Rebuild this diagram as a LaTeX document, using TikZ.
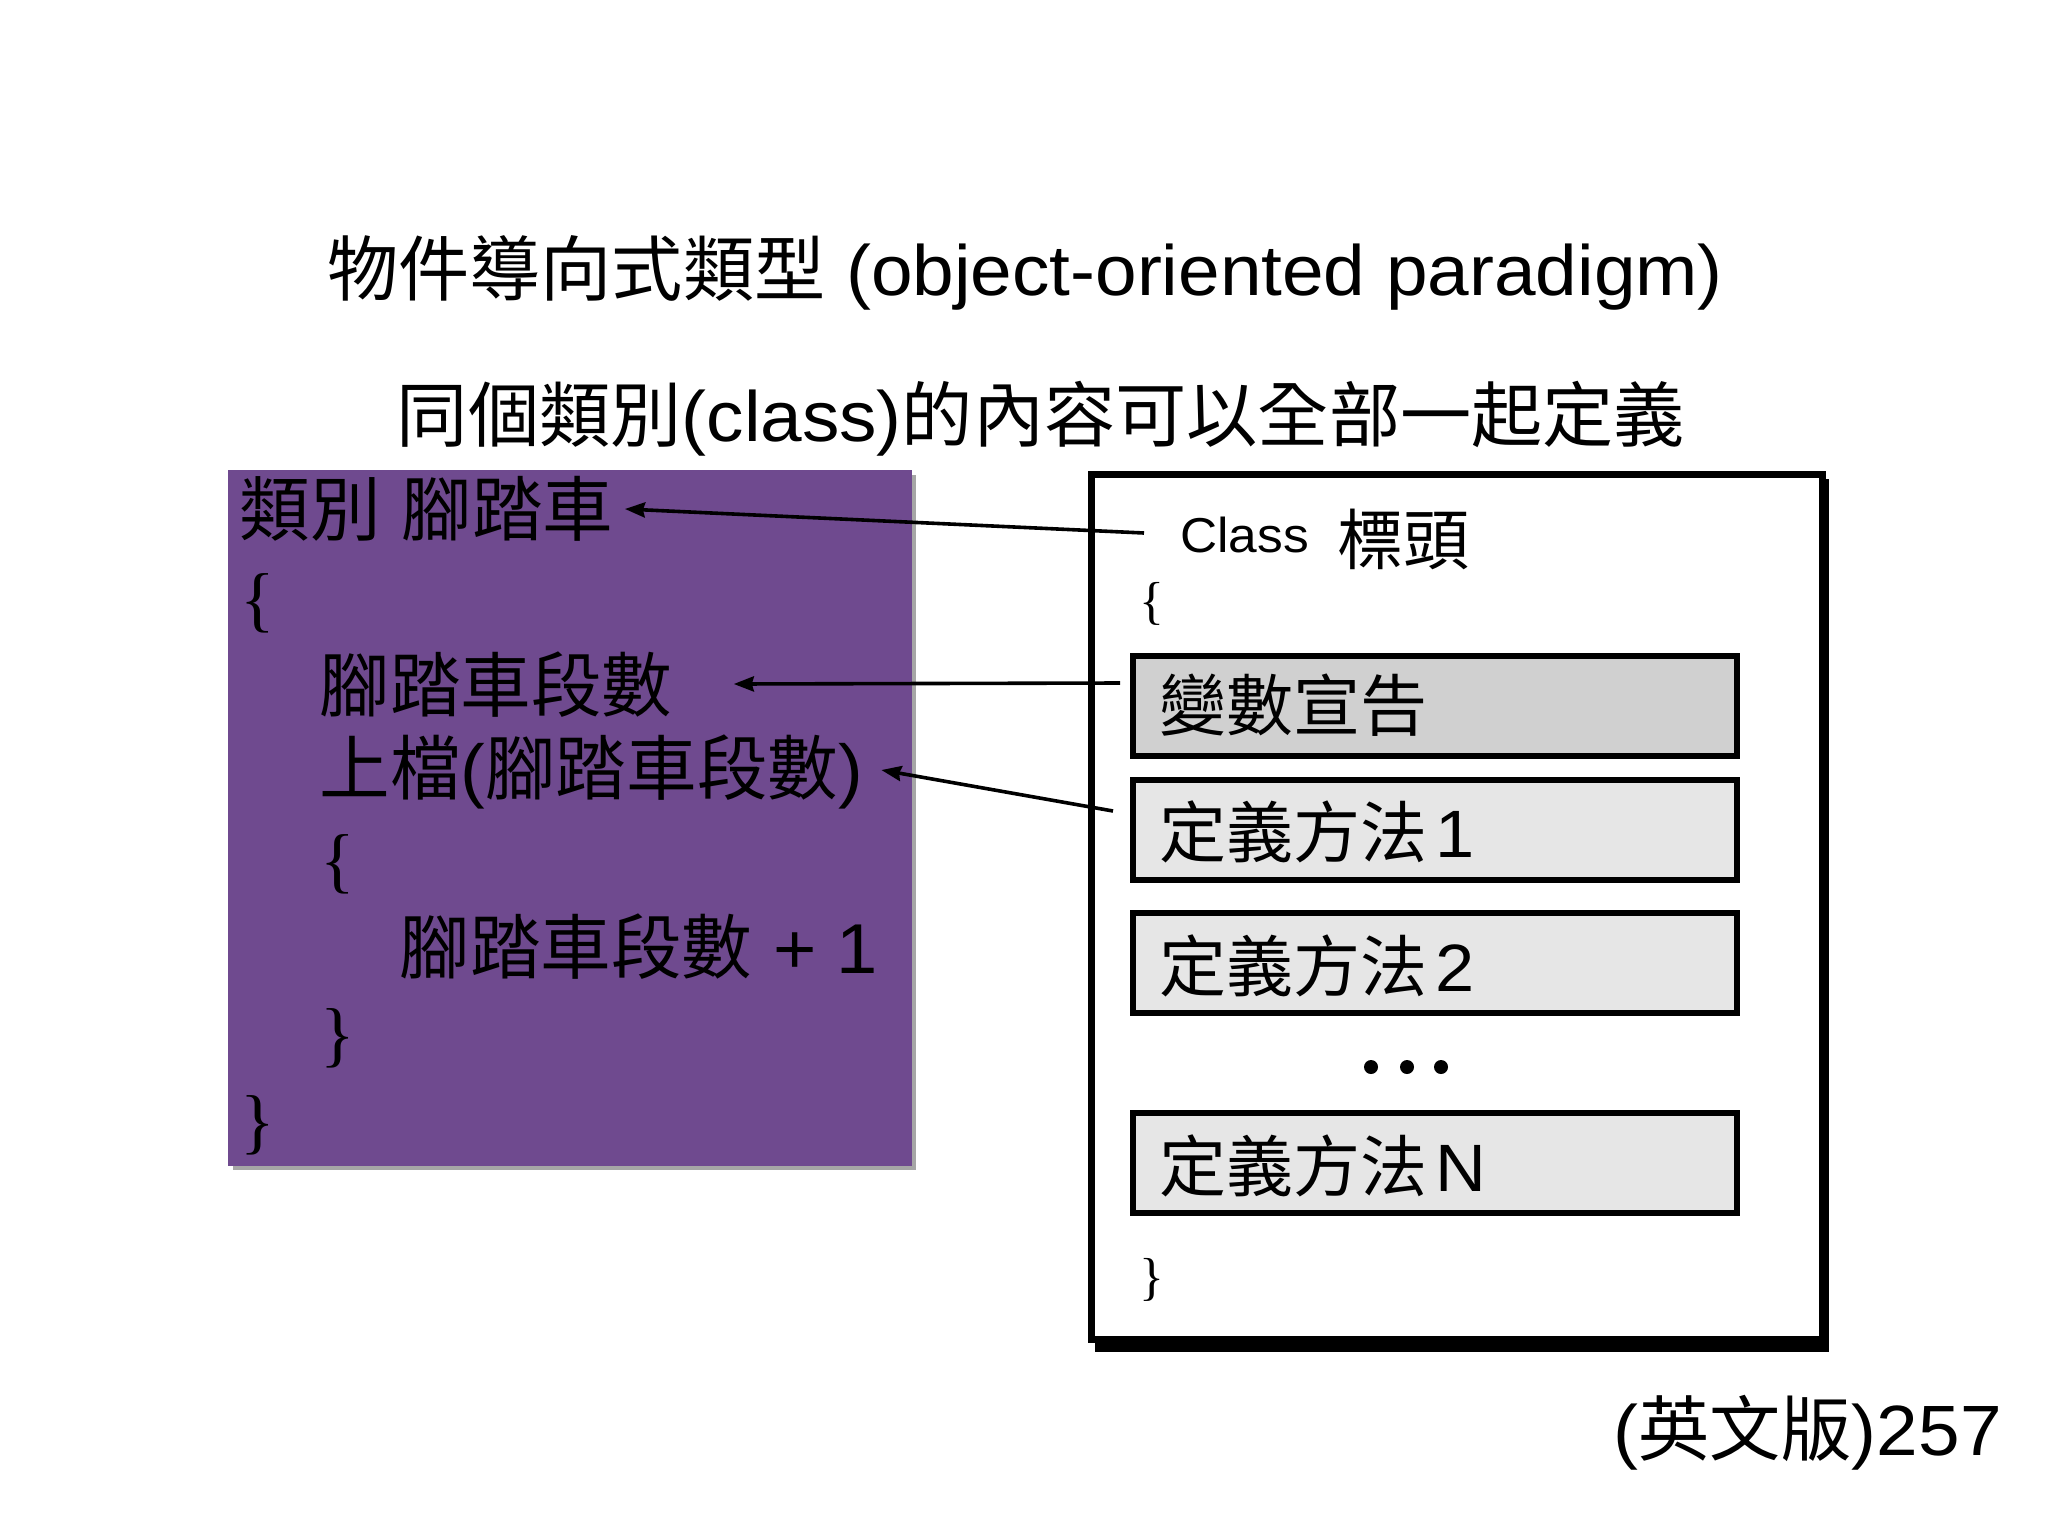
\documentclass[tikz,border=0pt]{standalone}
\usepackage{fontspec}
\setmainfont[FakeStretch=1.05]{Liberation Sans}
\newfontfamily\cjk{Noto Sans CJK TC}
\newfontfamily\serifbr{Liberation Serif}
\usetikzlibrary{arrows.meta,calc}
\definecolor{panelpurple}{RGB}{111,74,143}
\definecolor{boxdark}{RGB}{208,208,208}
\definecolor{boxlight}{RGB}{230,230,230}
\tikzset{
  ttl/.style={inner sep=0pt, font=\fontsize{35.6}{40}\selectfont},
  code/.style={inner sep=0pt, anchor=west, font=\fontsize{35.3}{40}\selectfont},
  bigbrace/.style={inner sep=0pt, anchor=west, font=\serifbr\fontsize{36}{40}\selectfont},
  smallbrace/.style={inner sep=0pt, anchor=west, font=\serifbr\fontsize{26}{30}\selectfont},
  member/.style={draw=black, line width=3.2pt, minimum width=302pt, minimum height=50pt, inner sep=0pt},
  memberlbl/.style={inner sep=0pt, anchor=west, font=\fontsize{33.5}{38}\selectfont},
  arr/.style={line width=1.8pt, -{Stealth[length=10pt,width=7.5pt,inset=1pt]}}
}
\begin{document}
\begin{tikzpicture}[x=0.5pt,y=-0.5pt]
\useasboundingbox (0,0) rectangle (2048,1536);
\fill[white] (0,0) rectangle (2048,1536);

% titles
\node[ttl] (title1) at (1025,273) {{\cjk 物件導向式類型} (object-oriented paradigm)};
\node[ttl] (title2) at (1041,419) {{\cjk 同個類別}(class){\cjk 的內容可以全部一起定義}};

% purple code panel
\fill[black!35] (233,475) rectangle (916,1170);
\fill[panelpurple] (228,470) rectangle (912,1166);
\node[code] (l1) at (239,509) {{\cjk 類別}\hspace{0.3em}{\cjk 腳踏車}};
\node[bigbrace] (ob1) at (240,603) {\{};
\node[code] (l2) at (319,685) {{\cjk 腳踏車段數}};
\node[code] (l3) at (319,772) {{\cjk 上檔}({\cjk 腳踏車段數})};
\node[bigbrace] (ob2) at (320,864) {\{};
\node[code] (l4) at (399,947) {{\cjk 腳踏車段數} + 1};
\node[bigbrace] (cb2) at (320,1038) {\}};
\node[bigbrace] (cb1) at (240,1125) {\}};

% class frame
\fill[black] (1095,479) rectangle (1829,1352);
\draw[line width=3.5pt, fill=white] (1091,474) rectangle (1822,1339);
\node[inner sep=0pt, anchor=west, font=\fontsize{24.5}{28}\selectfont] (cls) at (1180,535) {Class};
\node[inner sep=0pt, anchor=west, font=\cjk\fontsize{33}{36}\selectfont] (hdr) at (1337,539) {標頭};
\node[smallbrace] (rob) at (1139,604) {\{};

\node[member, fill=boxdark] (m0) at (1435,706) {};
\node[member, fill=boxlight] (m1) at (1435,830) {};
\node[member, fill=boxlight] (m2) at (1435,963) {};
\node[member, fill=boxlight] (mn) at (1435,1163) {};
\node[memberlbl] (t0) at (1159,705) {{\cjk 變數宣告}};
\node[memberlbl] (t1) at (1159,832) {{\cjk 定義方法}\hspace{0.12em}1};
\node[memberlbl] (t2) at (1159,966) {{\cjk 定義方法}\hspace{0.12em}2};
\node[memberlbl] (tn) at (1159,1166) {{\cjk 定義方法}\hspace{0.12em}N};
\fill[black] (1371,1067) circle (7) (1407,1067) circle (7) (1441,1067) circle (7);
\node[smallbrace] (rcb) at (1139,1280) {\}};

% connectors
\coordinate (s1) at (1144,533);
\coordinate (s2) at (1120,683);
\coordinate (s3) at (1113,811);
\draw[arr] (s1) -- ($(l1.east)+(11,0)$);
\draw[arr] (s2) -- ($(l2.east)+(61,-1)$);
\draw[arr] (s3) -- ($(l3.east)+(18,-2)$);

% footer
\node[ttl, anchor=east] (foot) at (2002,1433) {({\cjk 英文版})257};
\end{tikzpicture}
\end{document}
